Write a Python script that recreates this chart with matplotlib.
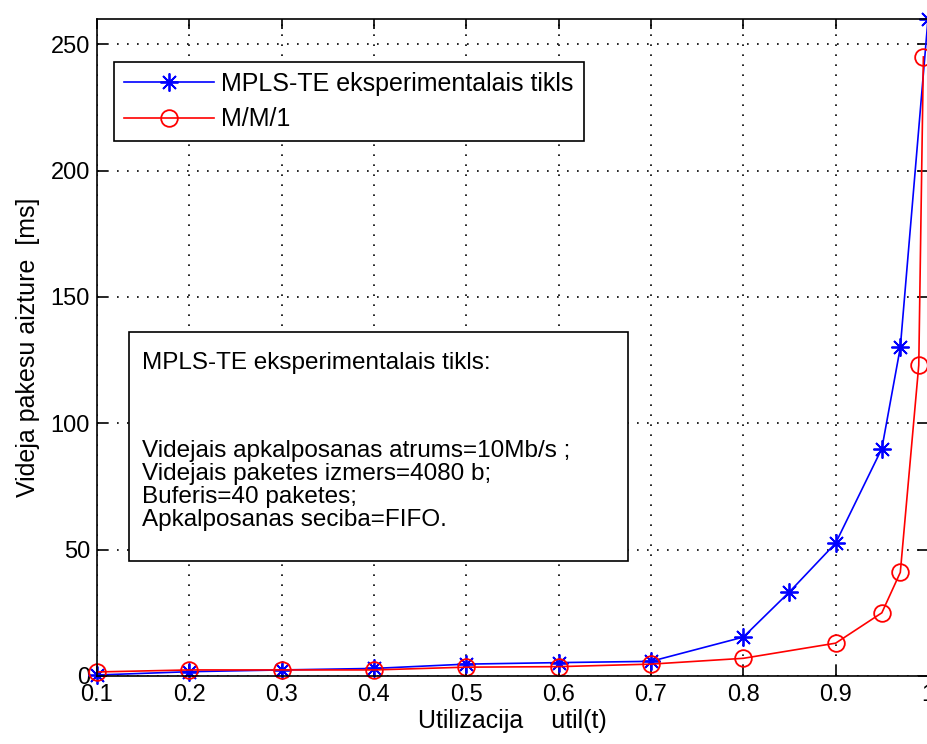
import matplotlib
matplotlib.use("Agg")
import matplotlib.pyplot as plt
from matplotlib.patches import Rectangle

plt.rcParams['font.family'] = ['Liberation Sans', 'DejaVu Sans']

util_mpls = [0.1, 0.2, 0.3, 0.4, 0.5, 0.6, 0.7, 0.8, 0.85, 0.9, 0.95, 0.97, 1.0]
delay_mpls = [0.4, 1.7, 2.4, 3.0, 4.7, 5.3, 5.8, 15.4, 33.3, 52.6, 90.0, 130.0, 260.0]
util_mm1 = [0.1, 0.2, 0.3, 0.4, 0.5, 0.6, 0.7, 0.8, 0.9, 0.95, 0.97, 0.99, 0.995]
delay_mm1 = [1.6, 2.4, 2.4, 2.4, 3.5, 3.7, 4.7, 7.0, 13.0, 25.0, 41.0, 123.0, 245.0]
xticks = [0.1, 0.2, 0.3, 0.4, 0.5, 0.6, 0.7, 0.8, 0.9, 1.0]
xtick_labels = ['0.1', '0.2', '0.3', '0.4', '0.5', '0.6', '0.7', '0.8', '0.9', '1']
yticks = [0, 50, 100, 150, 200, 250]
info_title = "MPLS-TE eksperimentalais tikls:"
info_lines = ["Videjais apkalposanas atrums=10Mb/s ;",
              "Videjais paketes izmers=4080 b;",
              "Buferis=40 paketes;",
              "Apkalposanas seciba=FIFO."]

fig = plt.figure(figsize=(9.28, 7.44), dpi=100)
ax = fig.add_axes([97/928, 1-676/744, 831/928, 657/744])

ax.plot(util_mpls, delay_mpls, color='#0000ff', marker=(8, 2, 0), markersize=13,
        markeredgewidth=1.3, linewidth=1.2, label='MPLS-TE eksperimentalais tikls',
        clip_on=False)
ax.plot(util_mm1, delay_mm1, color='#ff0000', marker='o', markersize=12,
        markerfacecolor='none', markeredgewidth=1.3, linewidth=1.2, label='M/M/1',
        clip_on=False)

ax.set_xlim(0.1, 1.0)
ax.set_ylim(0, 260)
ax.set_xticks(xticks)
ax.set_xticklabels(xtick_labels)
ax.set_yticks(yticks)
ax.tick_params(direction='in', length=7, width=1.2, labelsize=17,
               top=True, right=True)
ax.tick_params(axis='x', pad=6)
ax.tick_params(axis='y', pad=5)
ax.grid(True, color='black', linestyle=(0, (1, 5)), linewidth=1.2)
for s in ax.spines.values():
    s.set_linewidth(1.2)

ax.set_xlabel('Utilizacija    util(t)', fontsize=18, labelpad=2)
ax.set_ylabel('Videja pakesu aizture  [ms]', fontsize=18, labelpad=8)

leg = ax.legend(loc='upper left', bbox_to_anchor=(17/831, 1-43/657), fontsize=18,
                fancybox=False, framealpha=1, edgecolor='black',
                handlelength=3.6, handletextpad=0.3, borderpad=0.4,
                labelspacing=0.45, borderaxespad=0)
leg.get_frame().set_linewidth(1.2)

# info box
ax.add_patch(Rectangle((0.0385, 0.175), 0.6, 0.349, transform=ax.transAxes,
                       facecolor='white', edgecolor='black', linewidth=1.2, zorder=5))
ax.text(0.054, (676-363)/657, info_title, transform=ax.transAxes, fontsize=17.5,
        va='center', ha='left', zorder=6)
ax.text(0.054, (676-440)/657, "\n".join(info_lines), transform=ax.transAxes, fontsize=17.5,
        va='top', ha='left', linespacing=1.06, zorder=6)

fig.savefig('out.png', dpi=100)
